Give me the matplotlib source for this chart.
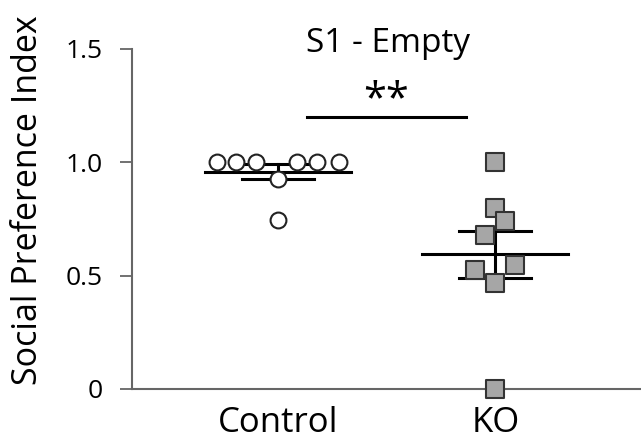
import numpy as np
import matplotlib.pyplot as plt

plt.rcParams['font.family'] = ['Open Sans', 'DejaVu Sans']

groups = ["Control", "KO"]
control = [1.0, 1.0, 1.0, 1.0, 1.0, 1.0, 0.926, 0.745]
control_x = [-0.28, -0.19, -0.10, 0.09, 0.18, 0.28, 0.0, 0.0]
ko = [1.0, 0.797, 0.741, 0.679, 0.547, 0.525, 0.466, 0.0]
ko_x = [0.0, 0.0, 0.045, -0.048, 0.09, -0.095, 0.0, 0.0]

fig = plt.figure(figsize=(6.41, 4.4), dpi=100)
ax = fig.add_axes([0.206, 0.116, 0.794, 0.773])

gray = '#666666'
for i, vals in enumerate([control, ko]):
    m = np.mean(vals)
    sem = np.std(vals, ddof=1) / np.sqrt(len(vals))
    ax.plot([i - 0.335, i + 0.335], [m, m], color='k', lw=2.2, zorder=1)
    ax.plot([i, i], [m - sem, m + sem], color='k', lw=2.2, zorder=1)
    for y in (m - sem, m + sem):
        ax.plot([i - 0.165, i + 0.165], [y, y], color='k', lw=2.2, zorder=1)

ax.scatter(control_x, control, s=130, marker='o', facecolor='white',
           edgecolor='#222222', linewidth=1.5, zorder=3, clip_on=False)
ax.scatter([1 + d for d in ko_x], ko, s=170, marker='s', facecolor='#a6a6a6',
           edgecolor='#333333', linewidth=1.5, zorder=3, clip_on=False)

# significance bar
ax.plot([0.135, 0.865], [1.2, 1.2], color='k', lw=2.2)
ax.text(0.5, 1.18, "**", ha='center', va='bottom', fontsize=30)

fig.text(0.605, 0.882, "S1 - Empty", ha='center', va='baseline', fontsize=24)
ax.set_xlim(-0.67, 1.67)
ax.set_ylim(0, 1.5)
ax.set_yticks([0, 0.5, 1.0, 1.5])
ax.set_yticklabels(["0", "0.5", "1.0", "1.5"], fontsize=19)
ax.set_xticks([0, 1])
ax.set_xticklabels(groups, fontsize=25)
ax.tick_params(axis='x', length=0, pad=12)
ax.tick_params(axis='y', length=9, width=1.3, color=gray, pad=12, direction='out')
ax.set_ylabel("Social Preference Index", fontsize=24.5)
ax.yaxis.set_label_coords(-0.172, 0.556)
for s in ['top', 'right']:
    ax.spines[s].set_visible(False)
for s in ['left', 'bottom']:
    ax.spines[s].set_color(gray)
    ax.spines[s].set_linewidth(1.5)

fig.savefig("out.png", dpi=100)
